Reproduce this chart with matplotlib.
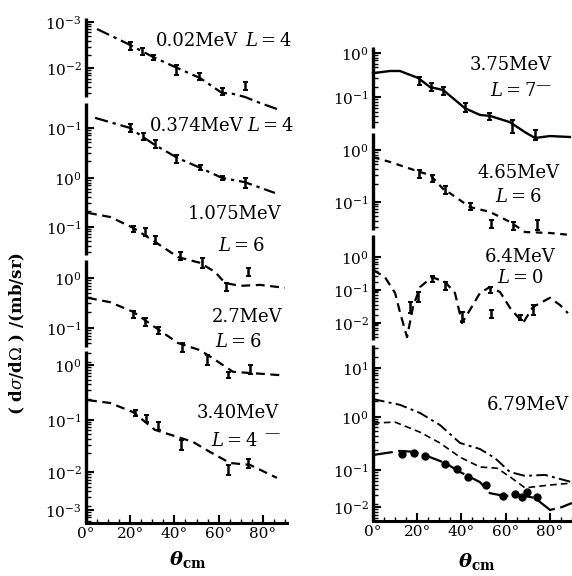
import numpy as np
import matplotlib
matplotlib.use("Agg")
import matplotlib.pyplot as plt

plt.rcParams['font.family'] = ['DejaVu Serif']
plt.rcParams['mathtext.fontset'] = 'dejavuserif'

# ---------------- data (angles in degrees, y in stacked-decade units) -------------
# Left panel curves
L1_ang = [5.0, 19.9, 24.4, 30.3, 41.2, 51.6, 61.5, 66.5, 71.9, 78.7, 86.4]
L1_val = [10.29, 9.96, 9.85, 9.71, 9.48, 9.27, 8.96, 8.94, 8.875, 8.75, 8.625]
L1_pt_ang = [19.9, 25.3, 30.3, 40.7, 51.1, 61.5, 71.9]
L1_pt_val = [9.94, 9.82, 9.70, 9.44, 9.30, 8.99, 9.10]
L1_pt_err = [0.083, 0.07, 0.05, 0.10, 0.07, 0.07, 0.08]

L2_ang = [4.1, 19.9, 25.8, 31.2, 41.6, 51.6, 61.5, 71.9, 85.5]
L2_val = [8.44, 8.23, 8.04, 7.875, 7.60, 7.40, 7.19, 7.10, 6.875]
L2_pt_ang = [19.9, 25.8, 31.2, 40.7, 51.6, 61.5, 71.9]
L2_pt_val = [8.23, 8.05, 7.90, 7.58, 7.41, 7.19, 7.08]
L2_pt_err = [0.083, 0.07, 0.083, 0.083, 0.05, 0.04, 0.10]

L3_ang = [0.9, 10.9, 21.3, 32.1, 41.6, 51.6, 58.4, 62.9, 69.7, 78.7, 90.0]
L3_val = [6.46, 6.375, 6.15, 5.83, 5.54, 5.42, 5.23, 5.00, 4.94, 4.96, 4.90]
L3_pt_ang = [21.3, 26.7, 31.2, 42.5, 52.5, 63.3, 73.3]
L3_pt_val = [6.125, 6.06, 5.90, 5.56, 5.42, 4.92, 5.23]
L3_pt_err = [0.06, 0.083, 0.083, 0.083, 0.10, 0.083, 0.083]

L4_ang = [0.9, 10.9, 21.3, 31.2, 41.6, 51.6, 58.4, 66.5, 74.2, 87.8]
L4_val = [4.69, 4.60, 4.40, 4.08, 3.75, 3.60, 3.40, 3.15, 3.125, 3.08]
L4_pt_ang = [21.3, 26.7, 32.6, 43.4, 54.8, 64.3, 74.2]
L4_pt_val = [4.34, 4.19, 4.01, 3.66, 3.40, 3.08, 3.20]
L4_pt_err = [0.07, 0.083, 0.07, 0.094, 0.10, 0.06, 0.094]

L5_ang = [0.9, 10.9, 21.3, 31.2, 41.6, 48.4, 56.1, 65.2, 74.2, 86.4]
L5_val = [2.56, 2.50, 2.31, 1.94, 1.79, 1.69, 1.48, 1.25, 1.21, 0.94]
L5_pt_ang = [22.2, 27.1, 32.6, 43.0, 64.3, 73.3]
L5_pt_val = [2.29, 2.18, 2.02, 1.625, 1.10, 1.24]
L5_pt_err = [0.06, 0.07, 0.083, 0.10, 0.10, 0.094]

# Right panel curves
R1_ang = [0.0, 7.7, 12.2, 20.4, 25.8, 31.7, 41.6, 48.4, 52.9, 61.9, 68.8, 73.3, 80.1, 89.1]
R1_val = [9.33, 9.375, 9.375, 9.23, 9.04, 8.98, 8.60, 8.46, 8.44, 8.31, 8.10, 7.98, 8.02, 8.00]
R1_pt_ang = [20.8, 26.2, 31.7, 41.6, 52.5, 62.9, 73.3]
R1_pt_val = [9.17, 9.04, 8.96, 8.61, 8.43, 8.22, 8.04]
R1_pt_err = [0.083, 0.083, 0.083, 0.094, 0.07, 0.135, 0.10]

R2_ang = [0.0, 7.7, 21.3, 25.8, 32.6, 34.8, 43.9, 52.9, 62.0, 68.8, 80.1, 89.1]
R2_val = [7.58, 7.48, 7.27, 7.21, 6.875, 6.83, 6.54, 6.44, 6.23, 6.02, 6.00, 5.96]
R2_pt_ang = [20.8, 26.7, 32.6, 43.9, 53.4, 63.3, 74.2]
R2_pt_val = [7.23, 7.14, 6.90, 6.55, 6.19, 6.15, 6.17]
R2_pt_err = [0.083, 0.07, 0.083, 0.07, 0.083, 0.083, 0.10]

R3_ang = [0.0, 5.4, 10.0, 12.2, 15.4, 18.1, 21.3, 26.7, 32.6, 37.1, 40.3, 43.9,
          48.4, 52.9, 57.5, 62.0, 67.9, 72.4, 80.1, 84.6, 88.2]
R3_val = [5.23, 5.08, 4.75, 4.35, 3.83, 4.46, 4.875, 5.08, 4.98, 4.75, 4.125, 4.40,
          4.75, 4.875, 4.77, 4.44, 4.125, 4.46, 4.65, 4.50, 4.33]
R3_pt_ang = [16.7, 20.4, 26.7, 32.6, 40.3, 52.9, 53.4, 66.5, 72.4]
R3_pt_val = [4.45, 4.67, 5.04, 4.90, 4.25, 4.81, 4.31, 4.24, 4.40]
R3_pt_err = [0.11, 0.10, 0.06, 0.083, 0.10, 0.06, 0.083, 0.05, 0.10]

R4a_ang = [0.0, 12.2, 21.3, 30.3, 39.4, 48.4, 55.2, 62.0, 68.8, 77.8, 90.0]
R4a_val = [2.54, 2.42, 2.25, 2.00, 1.625, 1.50, 1.31, 1.02, 0.94, 0.96, 0.81]
R4b_ang = [0.0, 10.0, 21.3, 30.3, 39.4, 48.4, 56.1, 62.0, 68.8, 80.1, 90.0]
R4b_val = [2.04, 2.06, 1.85, 1.625, 1.33, 1.125, 1.10, 0.92, 0.69, 0.75, 0.79]
R4c_ang = [0.0, 12.2, 19.0, 25.8, 32.6, 39.4, 48.4, 52.9, 59.7, 66.5, 73.3, 80.1, 85.5, 90.0]
R4c_val = [1.375, 1.46, 1.44, 1.33, 1.21, 1.02, 0.81, 0.58, 0.52, 0.54, 0.48, 0.23, 0.29, 0.375]
R4_pt_ang = [13.1, 18.6, 23.5, 32.6, 38.0, 43.0, 51.1, 58.8, 64.3, 67.4, 69.7, 74.2]
R4_pt_val = [1.40, 1.42, 1.35, 1.19, 1.08, 0.92, 0.75, 0.52, 0.56, 0.50, 0.60, 0.50]

# Tick labels (as printed) and their stacked positions
L_tick_pos = [10.44, 9.48, 8.23, 7.19, 6.17, 5.10, 4.06, 3.29, 2.15, 1.06, 0.27]
L_tick_lab = ['$10^{-3}$', '$10^{-2}$', '$10^{-1}$', '$10^{0}$', '$10^{-1}$', '$10^{0}$',
              '$10^{-1}$', '$10^{0}$', '$10^{-1}$', '$10^{-2}$', '$10^{-3}$']
R_tick_pos = [9.75, 8.83, 7.73, 6.65, 5.50, 4.81, 4.125, 3.19, 2.17, 1.06, 0.29]
R_tick_lab = ['$10^{0}$', '$10^{-1}$', '$10^{0}$', '$10^{-1}$', '$10^{0}$', '$10^{-1}$',
              '$10^{-2}$', '$10^{1}$', '$10^{0}$', '$10^{-1}$', '$10^{-2}$']
x_ticks = [0, 20, 40, 60, 80]
x_labels = ['0°', '20°', '40°', '60°', '80°']

# ---------------- figure ----------------
W, H = 572, 576
fig = plt.figure(figsize=(W / 100, H / 100), dpi=100)
fig.patch.set_facecolor('white')

axL = fig.add_axes([86 / W, 1 - 523 / H, 201 / W, 505 / H])
axR = fig.add_axes([373 / W, 1 - 521 / H, 199 / W, 474 / H])
axL.set_xlim(0, 90.95); axL.set_ylim(0, 10.52)
axR.set_xlim(0, 90.05); axR.set_ylim(0, 9.875)

L_segments = [(8.875, 10.52), (5.58, 8.75), (3.67, 5.48), (0, 3.58)]
R_segments = [(8.19, 9.875), (6.06, 8.08), (3.77, 5.96), (0, 3.67)]

def style_axis(ax, tick_pos, tick_lab, segments):
    for s in ['top', 'right', 'left']:
        ax.spines[s].set_visible(False)
    ax.spines['bottom'].set_linewidth(2.2)
    for lo, hi in segments:
        ax.plot([0, 0], [lo, hi], color='black', lw=2.4, clip_on=False,
                solid_capstyle='butt', transform=ax.transData)
    ax.set_yticks(tick_pos)
    ax.set_yticklabels(tick_lab, fontsize=11)
    minor = []
    for m in tick_pos:
        for k in range(2, 10):
            p = m - 1 + np.log10(k)
            if any(lo + 0.03 < p < hi - 0.03 for lo, hi in segments):
                minor.append(p)
    ax.set_yticks(minor, minor=True)
    ax.set_xticks(x_ticks)
    ax.set_xticklabels(x_labels, fontsize=11)
    ax.set_xticks(np.arange(0, 91, 5), minor=True)
    ax.tick_params(axis='both', which='major', direction='in', length=6, width=1.5, pad=3)
    ax.tick_params(axis='y', which='minor', direction='in', length=3.5, width=1.0)
    ax.tick_params(axis='x', which='minor', direction='in', length=3, width=1.0)

style_axis(axL, L_tick_pos, L_tick_lab, L_segments)
style_axis(axR, R_tick_pos, R_tick_lab, R_segments)

dashdot = (0, (6, 2.2, 1.5, 2.2))
dashed = (0, (4, 2.5))

def curve(ax, a, v, ls, lw=1.6):
    ax.plot(a, v, color='black', lw=lw, linestyle=ls, clip_on=False)

def points(ax, a, v, e):
    ax.errorbar(a, v, yerr=e, fmt='none', ecolor='black', elinewidth=1.8,
                capsize=1.8, capthick=1.4, clip_on=False)

curve(axL, L1_ang, L1_val, dashdot); points(axL, L1_pt_ang, L1_pt_val, L1_pt_err)
curve(axL, L2_ang, L2_val, dashdot); points(axL, L2_pt_ang, L2_pt_val, L2_pt_err)
curve(axL, L3_ang, L3_val, dashed); points(axL, L3_pt_ang, L3_pt_val, L3_pt_err)
curve(axL, L4_ang, L4_val, dashed); points(axL, L4_pt_ang, L4_pt_val, L4_pt_err)
curve(axL, L5_ang, L5_val, dashed); points(axL, L5_pt_ang, L5_pt_val, L5_pt_err)

curve(axR, R1_ang, R1_val, '-', lw=1.7); points(axR, R1_pt_ang, R1_pt_val, R1_pt_err)
curve(axR, R2_ang, R2_val, (0, (3, 2.5))); points(axR, R2_pt_ang, R2_pt_val, R2_pt_err)
curve(axR, R3_ang, R3_val, dashed); points(axR, R3_pt_ang, R3_pt_val, R3_pt_err)
curve(axR, R4a_ang, R4a_val, (0, (6, 2.2, 1.5, 2.2)), lw=1.4)
curve(axR, R4b_ang, R4b_val, (0, (4, 2.5)), lw=1.2)
curve(axR, R4c_ang, R4c_val, (0, (9, 2.5)), lw=1.6)
axR.plot(R4_pt_ang, R4_pt_val, 'o', color='black', ms=5, clip_on=False)

# ---------------- texts ----------------
def t(px, py, s, **kw):
    kw.setdefault('fontsize', 13)
    fig.text(px / W, 1 - py / H, s, va='center', ha='left', **kw)

t(156, 41, '0.02MeV'); t(245, 41, '$L=4$')
t(150, 126, '0.374MeV'); t(247, 126, '$L=4$')
t(188, 214, '1.075MeV'); t(218, 246, '$L=6$')
t(212, 317, '2.7MeV'); t(215, 342, '$L=6$')
t(197, 413, '3.40MeV'); t(211, 441, '$L=4$'); t(264, 433, '—', fontsize=11)
t(470, 65, '3.75MeV'); t(490, 91, '$L=7$'); t(535, 85, '—', fontsize=11)
t(477, 173, '4.65MeV'); t(495, 197, '$L=6$')
t(485, 257, '6.4MeV'); t(497, 278, '$L=0$')
t(487, 405, '6.79MeV')

fig.text(17 / W, 1 - 333 / H, '( d$\\sigma$/d$\\Omega$ ) /(mb/sr)', rotation=90,
         va='center', ha='center', fontsize=12, fontweight='bold')
fig.text(188 / W, 1 - 560 / H, '$\\boldsymbol{\\theta}_{\\mathbf{cm}}$', va='center',
         ha='center', fontsize=14)
fig.text(477 / W, 1 - 562 / H, '$\\boldsymbol{\\theta}_{\\mathbf{cm}}$', va='center',
         ha='center', fontsize=14)

fig.savefig('out.png', dpi=100, facecolor='white')
